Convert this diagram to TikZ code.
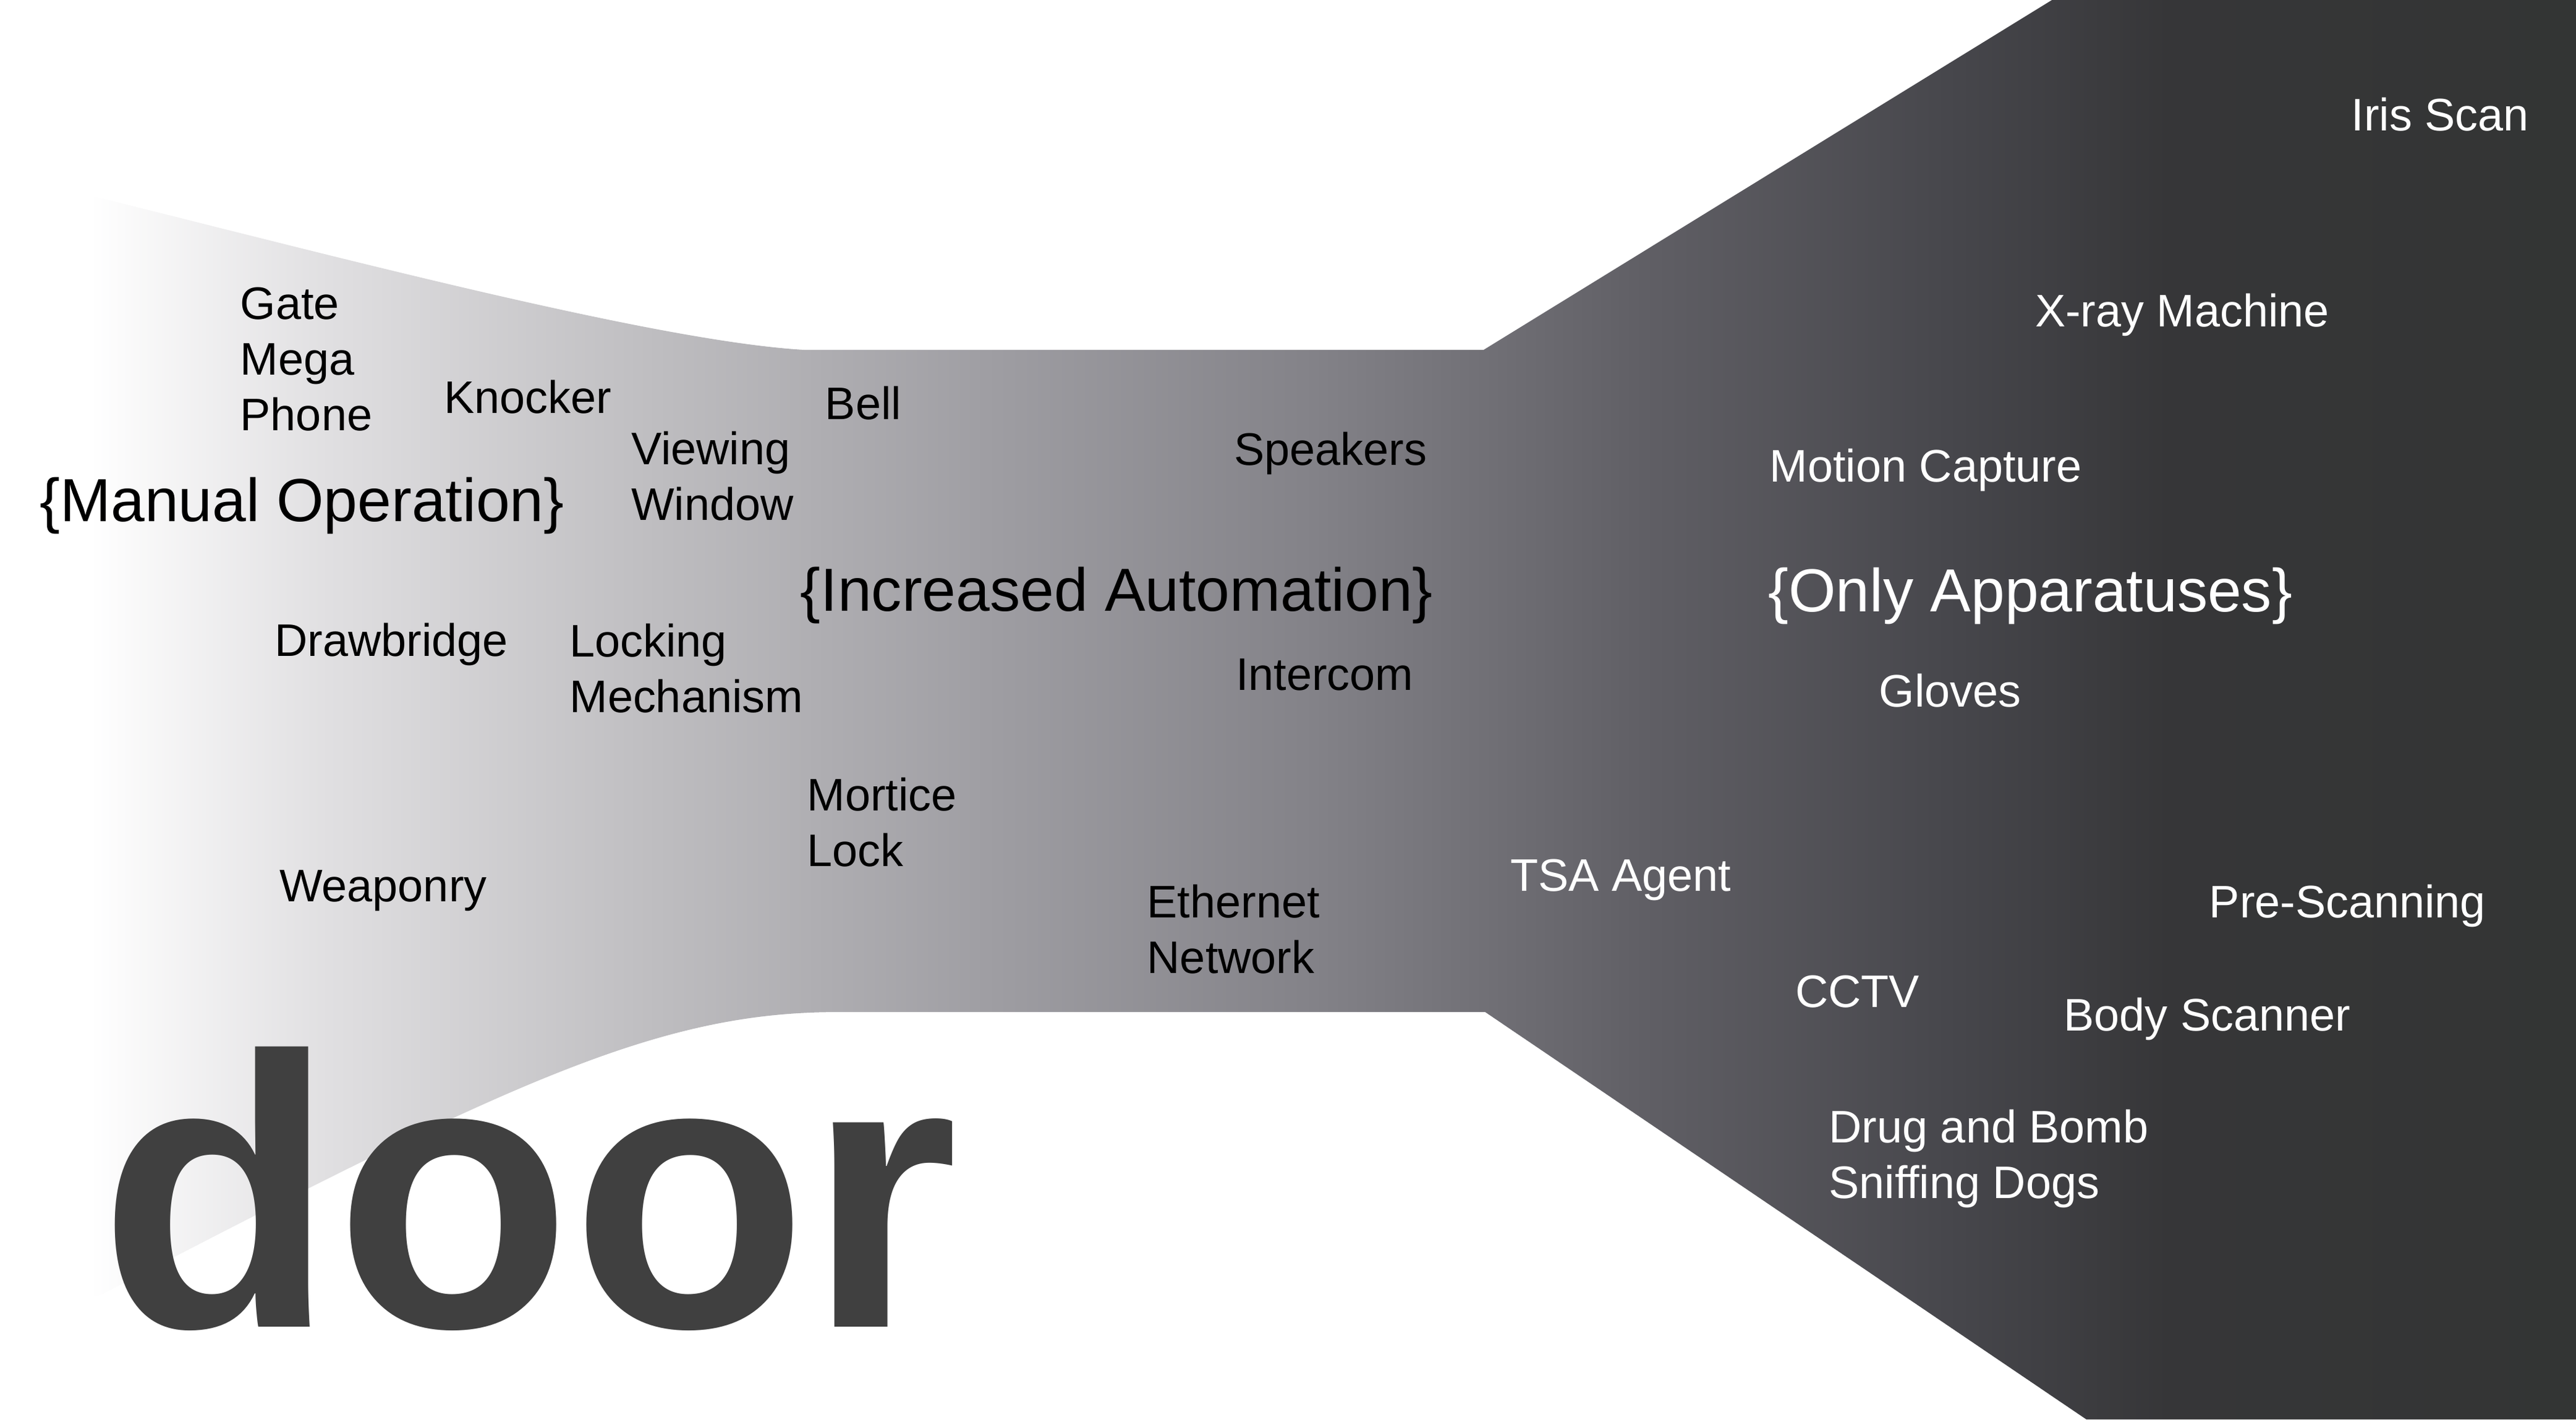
\documentclass[tikz,border=0pt]{standalone}
\usepackage{fontspec}
\setmainfont{Liberation Sans}
\definecolor{doorgrey}{RGB}{64,64,64}
\definecolor{fadeA}{RGB}{224,223,225}
\definecolor{fadeB}{RGB}{190,189,192}
\definecolor{fadeC}{RGB}{159,158,163}
\definecolor{fadeD}{RGB}{131,130,136}
\definecolor{fadeE}{RGB}{96,95,101}
\definecolor{fadeF}{RGB}{69,69,74}
\definecolor{fadeG}{RGB}{54,54,56}
\definecolor{fadeH}{RGB}{51,53,52}
\pgfdeclarehorizontalshading{doorfade}{100bp}{color(0bp)=(white); color(25bp)=(white);
  color(29.79bp)=(fadeA); color(36.40bp)=(fadeB); color(43.01bp)=(fadeC);
  color(49.62bp)=(fadeD); color(56.23bp)=(fadeE); color(62.84bp)=(fadeF);
  color(66.80bp)=(fadeG); color(75bp)=(fadeH); color(100bp)=(fadeH)}
\tikzset{
  item/.style={anchor=base west, inner sep=0pt, align=left, font=\fontsize{21}{25.6}\selectfont},
  dark item/.style={item, text=black},
  light item/.style={item, text=white},
  stage/.style={anchor=base west, inner sep=0pt, font=\fontsize{28}{34}\selectfont}
}
\begin{document}
\begin{tikzpicture}[x=0.26575mm, y=-0.26575mm]
\useasboundingbox (0,0) rectangle (1568,864);
\shade[shading=doorfade] (55,119) .. controls (200,155) and (400,208) .. (490,213) -- (903,213)
  -- (1249,0) -- (1568,0) -- (1568,864) -- (1270,864) -- (904,616) -- (510,616)
  .. controls (400,616) and (310,659) .. (60,789) -- (55,789) -- cycle;

\node[dark item] (gate) at (146,194.4) {Gate};
\node[dark item] (megaphone) at (146,262.1) {Mega\\Phone};
\node[dark item] (knocker) at (270,251.5) {Knocker};
\node[dark item] (viewing) at (384,316.8) {Viewing\\Window};
\node[dark item] (bell) at (502,255.3) {Bell};
\node[stage] (manual) at (24,317.3) {\{Manual Operation\}};
\node[dark item] (drawbridge) at (167,399.3) {Drawbridge};
\node[dark item] (locking) at (346.5,433.6) {Locking\\Mechanism};
\node[dark item] (weaponry) at (170,548.7) {Weaponry};
\node[dark item] (mortice) at (491,527.2) {Mortice\\Lock};
\node[dark item] (speakers) at (751,283) {Speakers};
\node[stage] (automation) at (487,371.9) {\{Increased Automation\}};
\node[dark item] (intercom) at (752,420.3) {Intercom};
\node[dark item] (ethernet) at (698,592.3) {Ethernet\\Network};

\node[light item] (tsa) at (919,542.3) {TSA Agent};
\node[light item] (iris) at (1431,79.7) {Iris Scan};
\node[light item] (xray) at (1238.5,198.7) {X-ray Machine};
\node[light item] (motion) at (1077,293.3) {Motion Capture};
\node[stage, text=white] (apparatus) at (1076,372.5) {\{Only Apparatuses\}};
\node[light item] (gloves) at (1143.5,430.1) {Gloves};
\node[light item] (prescan) at (1344.5,558.5) {Pre-Scanning};
\node[light item] (cctv) at (1092.5,613) {CCTV};
\node[light item] (bodyscan) at (1256,627.4) {Body Scanner};
\node[light item] (dogs) at (1113,729.4) {Drug and Bomb\\Sniffing Dogs};

\node[anchor=base west, inner sep=0pt, text=doorgrey, font=\fontsize{178}{178}\selectfont\bfseries] (door) at (60,807.6) {door};
\end{tikzpicture}
\end{document}
